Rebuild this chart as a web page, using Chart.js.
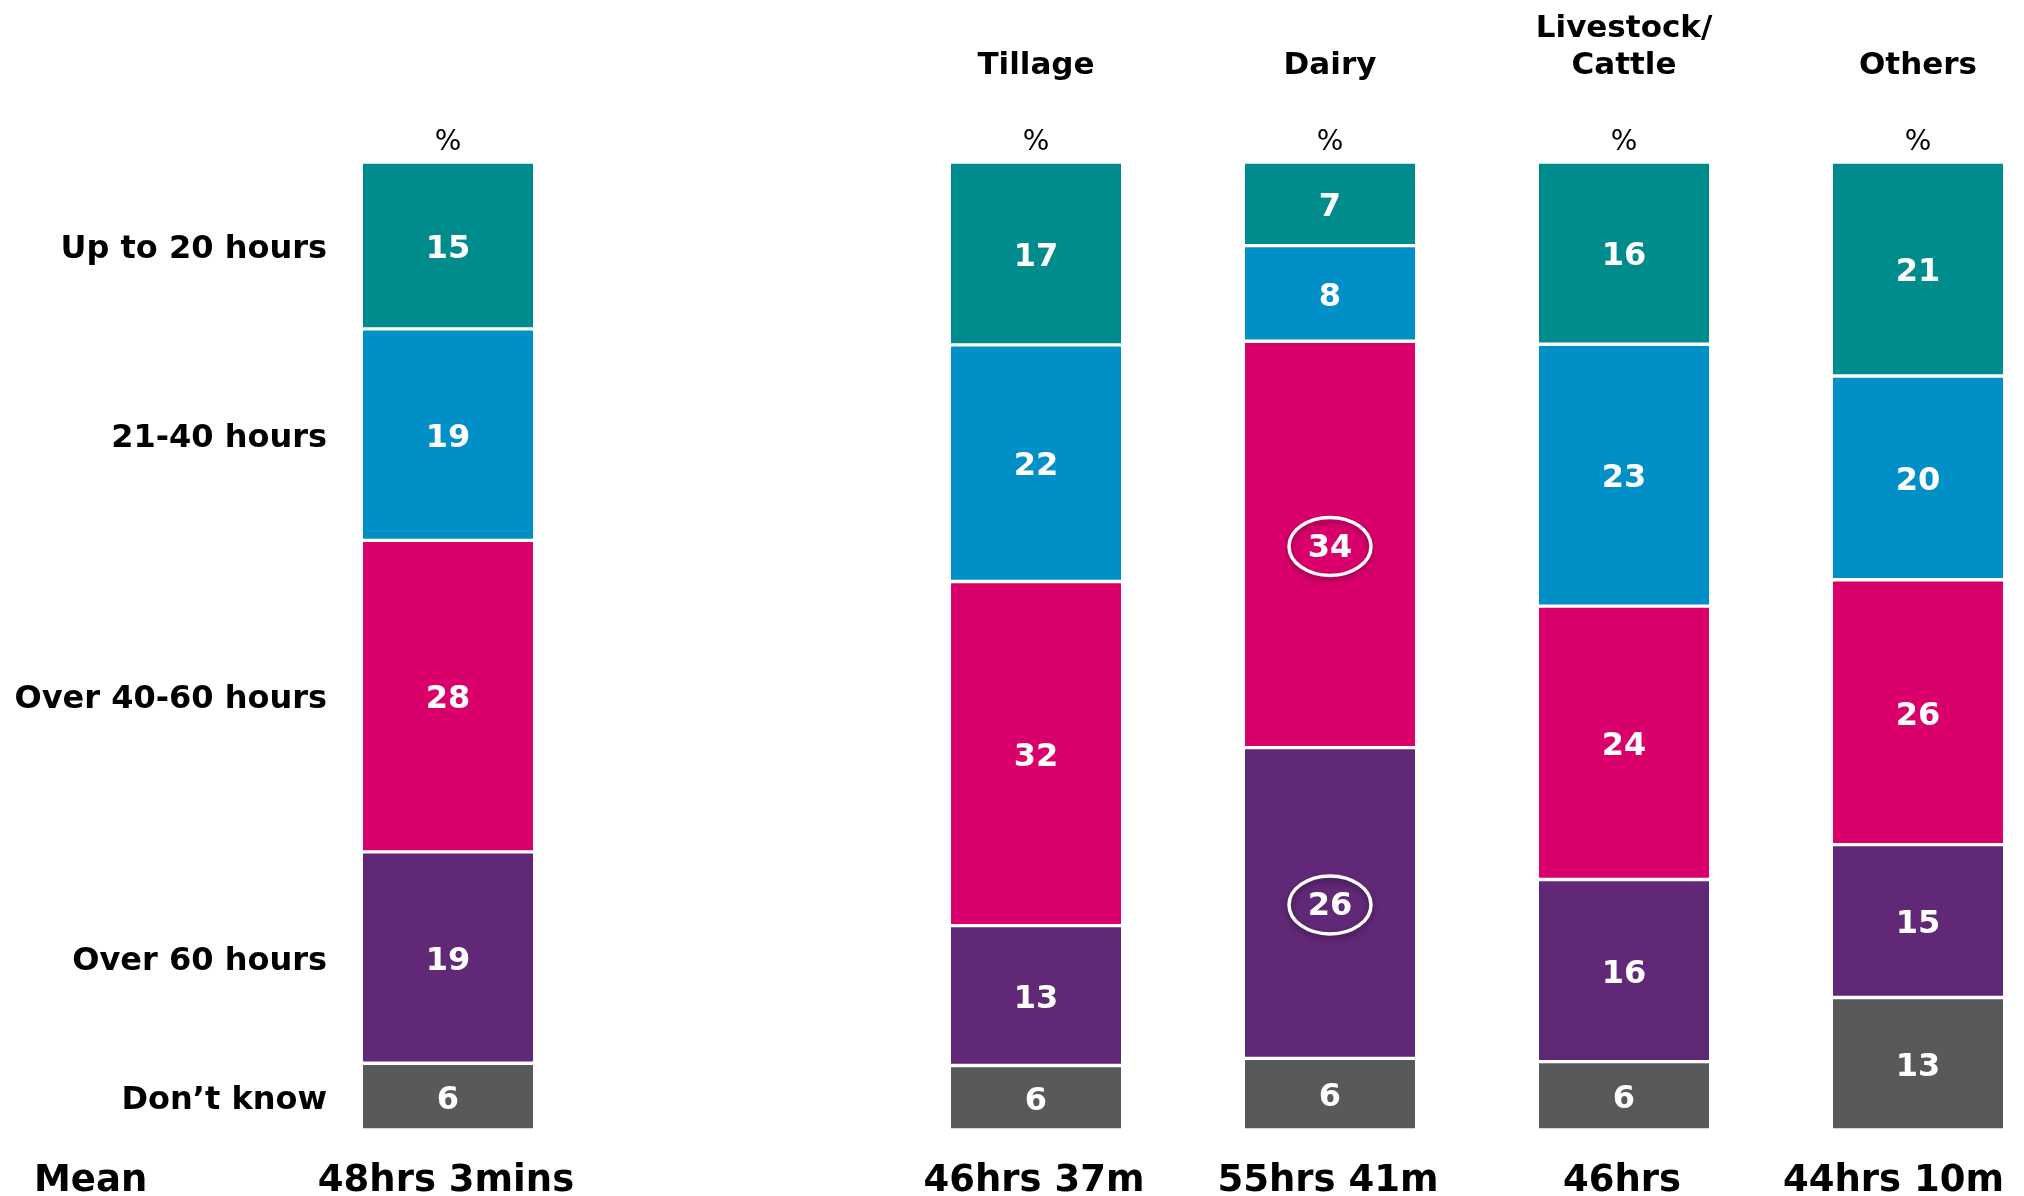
<!DOCTYPE html>
<html><head><meta charset="utf-8">
<script src="https://cdn.jsdelivr.net/npm/chart.js@4/dist/chart.umd.min.js"></script>
<style>html,body{margin:0;padding:0;background:#fff}#wrap{width:2024px;height:1196px;position:relative}</style>
</head><body><div id="wrap"><canvas id="c"></canvas></div>
<script>
// ---- data ----
const categories = ['Total', '', 'Tillage', 'Dairy', 'Livestock/Cattle', 'Others'];
const headerLabels = [[], [], ['Tillage'], ['Dairy'], ['Livestock/', 'Cattle'], ['Others']];
const unitLabels = ['%', '', '%', '%', '%', '%'];
const seriesNames = ['Don\u2019t know', 'Over 60 hours', 'Over 40-60 hours', '21-40 hours', 'Up to 20 hours'];
const dontKnow   = [6, null, 6, 6, 6, 13];
const over60     = [19, null, 13, 26, 16, 15];
const over40to60 = [28, null, 32, 34, 24, 26];
const h21to40    = [19, null, 22, 8, 23, 20];
const upTo20     = [15, null, 17, 7, 16, 21];
const meanLabel = 'Mean';
const means = ['48hrs 3mins', '', '46hrs 37m', '55hrs 41m', '46hrs', '44hrs 10m'];
const circled = [['Over 40-60 hours', 'Dairy'], ['Over 60 hours', 'Dairy']];

// ---- styles ----
const colors = ['#58595b', '#612878', '#d9006c', '#008fc6', '#008c8c'];
const FONT = '"DejaVu Sans", Verdana, sans-serif';

const seriesValues = [dontKnow, over60, over40to60, h21to40, upTo20];
const totals = categories.map((_, i) => seriesValues.reduce((s, arr) => s + (arr[i] || 0), 0));

const datasets = seriesValues.map((arr, si) => ({
  label: seriesNames[si],
  rawValues: arr,
  data: arr.map((v, i) => v == null ? null : v / totals[i] * 100),
  backgroundColor: colors[si],
  borderColor: '#ffffff',
  borderWidth: {top: 2, bottom: 2, left: 0, right: 0},
  borderSkipped: false,
  barThickness: 170,
  clip: false
}));

const overlay = {
  id: 'overlay',
  afterDatasetsDraw(chart) {
    const {ctx, chartArea, scales: {x}} = chart;
    ctx.save();
    ctx.textAlign = 'center';
    ctx.textBaseline = 'middle';
    chart.data.datasets.forEach((ds, di) => {
      const meta = chart.getDatasetMeta(di);
      meta.data.forEach((el, i) => {
        const raw = ds.rawValues[i];
        if (raw == null) return;
        const cy = (el.y + el.base) / 2;
        ctx.fillStyle = '#ffffff';
        ctx.font = 'bold 32px ' + FONT;
        ctx.fillText(String(raw), el.x, cy + 4);
        const isCircled = circled.some(c => c[0] === ds.label && c[1] === categories[i]);
        if (isCircled) {
          ctx.save();
          ctx.shadowColor = 'rgba(0,0,0,0.4)';
          ctx.shadowBlur = 6;
          ctx.shadowOffsetY = 3;
          ctx.strokeStyle = '#ffffff';
          ctx.lineWidth = 3.5;
          ctx.beginPath();
          ctx.ellipse(el.x, cy + 2, 41, 29, 0, 0, Math.PI * 2);
          ctx.stroke();
          ctx.restore();
        }
      });
      // row label on the left, aligned to the first bar's segment
      const el0 = meta.data[0];
      ctx.save();
      ctx.fillStyle = '#000000';
      ctx.textAlign = 'right';
      ctx.font = 'bold 32px ' + FONT;
      ctx.fillText(ds.label, chartArea.left - 121, (el0.y + el0.base) / 2 + 4);
      ctx.restore();
    });
    // headers, units and means
    categories.forEach((c, i) => {
      const px = x.getPixelForValue(i);
      ctx.fillStyle = '#000000';
      ctx.font = 'bold 31px ' + FONT;
      const lines = headerLabels[i];
      lines.forEach((ln, li) => {
        ctx.fillText(ln, px, chartArea.top - 96 - (lines.length - 1 - li) * 37);
      });
      ctx.font = '28px ' + FONT;
      ctx.fillText(unitLabels[i], px, chartArea.top - 19);
      ctx.font = 'bold 37px ' + FONT;
      const w = ctx.measureText(means[i]).width;
      const mx = Math.min(px - 2, chart.width - 20 - w / 2);
      ctx.fillText(means[i], mx, chartArea.bottom + 51);
    });
    ctx.textAlign = 'left';
    ctx.font = 'bold 37px ' + FONT;
    ctx.fillText(meanLabel, 34, chartArea.bottom + 51);
    ctx.restore();
  }
};

new Chart(document.getElementById('c'), {
  type: 'bar',
  data: {labels: categories, datasets},
  options: {
    responsive: true,
    maintainAspectRatio: false,
    animation: false,
    layout: {padding: {left: 448, right: 106, top: 162, bottom: 66}},
    plugins: {legend: {display: false}, tooltip: {enabled: false}},
    scales: {
      x: {display: false, stacked: true, offset: false, grid: {display: false}},
      y: {display: false, stacked: true, min: 0, max: 100, grid: {display: false}}
    }
  },
  plugins: [overlay]
});
</script>
</body></html>
